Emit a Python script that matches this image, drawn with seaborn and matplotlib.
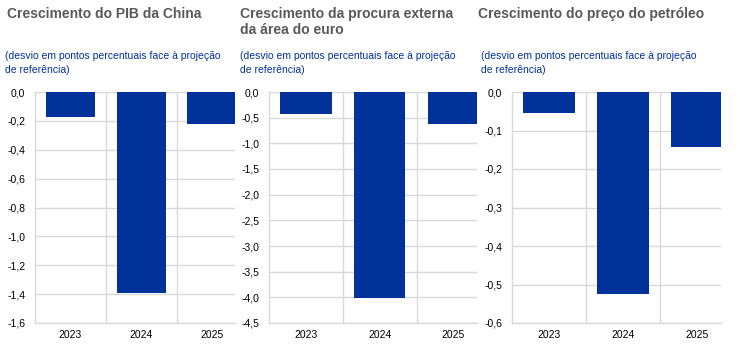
import matplotlib
matplotlib.use("Agg")
import matplotlib.pyplot as plt
import seaborn as sns
import pandas as pd
import numpy as np

years = ["2023", "2024", "2025"]
china_gdp = [-0.17, -1.39, -0.22]
foreign_demand = [-0.43, -4.01, -0.62]
oil_price = [-0.055, -0.525, -0.143]

titles = ["Crescimento do PIB da China",
          "Crescimento da procura externa\nda área do euro",
          "Crescimento do preço do petróleo"]
subtitle = "(desvio em pontos percentuais face à projeção\nde referência)"
yticks = [np.arange(0, -1.61, -0.2), np.arange(0, -4.51, -0.5), np.arange(0, -0.61, -0.1)]
ylims = [(-1.6, 0), (-4.5, 0), (-0.6, 0)]
series = [china_gdp, foreign_demand, oil_price]

sns.set_theme(style="white")
plt.rcParams['font.family'] = ['Liberation Sans', 'DejaVu Sans']

W, H = 744, 354
fig = plt.figure(figsize=(W / 100, H / 100), dpi=100)

axes_px = [(35, 235), (269, 477), (512, 721)]
title_x = [7, 240, 478]
sub_x = [5, 240, 481]
top_px, bot_px = 92, 323
blue = "#003299"
grid_c = "#d9d9d9"

for i in range(3):
    l, r = axes_px[i]
    ax = fig.add_axes([l / W, 1 - bot_px / H, (r - l) / W, (bot_px - top_px) / H])
    df = pd.DataFrame({"year": years, "value": series[i]})
    sns.barplot(data=df, x="year", y="value", ax=ax, color=blue, width=0.7,
                saturation=1, edgecolor=blue, linewidth=0)
    ax.set_xlim(-0.5, 2.32)
    ax.set_ylim(*ylims[i])
    ax.set_yticks(yticks[i])
    ax.set_yticklabels([f"{v:.1f}".replace(".", ",").replace("-0,0", "0,0") for v in yticks[i]])
    ax.set_xlabel("")
    ax.set_ylabel("")
    for y in yticks[i]:
        ax.axhline(y, color=grid_c, lw=1, zorder=0)
    for x in [0.5, 1.5]:
        ax.axvline(x, color=grid_c, lw=1, zorder=0)
    for s in ["top", "right"]:
        ax.spines[s].set_visible(False)
    for s in ["left", "bottom"]:
        ax.spines[s].set_color(grid_c)
        ax.spines[s].set_linewidth(1)
    ax.tick_params(axis="both", length=0, labelsize=7.5, colors="black", pad=7)
    ax.tick_params(axis="x", pad=5)
    ax.set_axisbelow(True)

    fig.text(title_x[i] / W, 1 - 7 / H, titles[i], ha="left", va="top",
             fontsize=10, fontweight="bold", color="#595959", linespacing=1.2)
    fig.text(sub_x[i] / W, 1 - 51 / H, subtitle, ha="left", va="top",
             fontsize=7.5, color=blue, linespacing=1.45)

fig.savefig("out.png", dpi=100)
